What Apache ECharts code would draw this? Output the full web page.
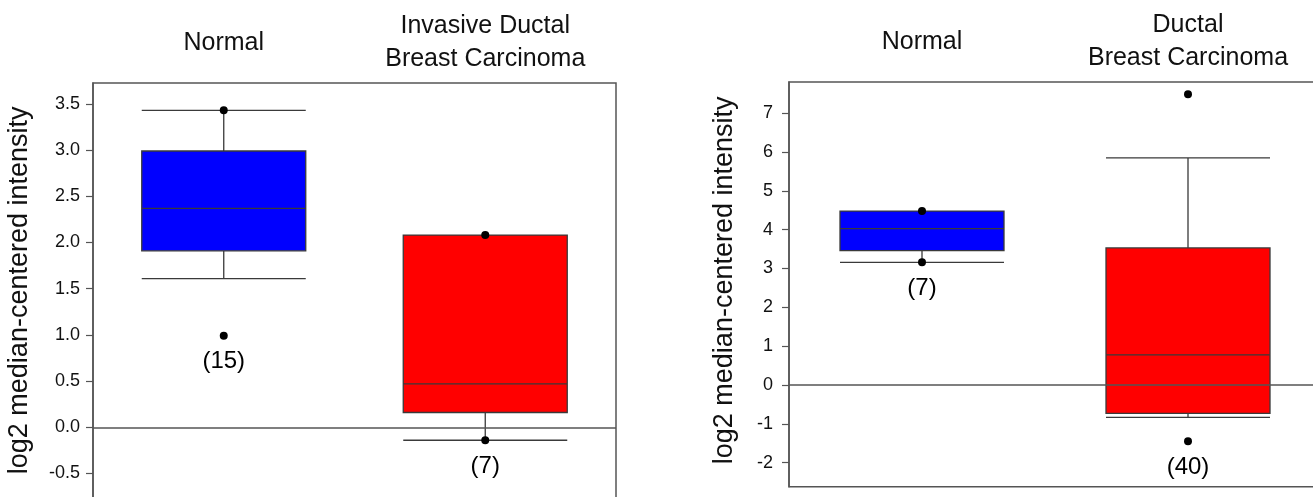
<!DOCTYPE html>
<html>
<head>
<meta charset="utf-8">
<script src="https://cdn.jsdelivr.net/npm/echarts@6/dist/echarts.min.js"></script>
<style>
  html, body { margin: 0; padding: 0; background: #fff; }
  #chart { width: 1313px; height: 497px; }
</style>
</head>
<body>
<div id="chart"></div>
<script>
// left panel
var leftCats = ['Normal', 'Invasive Ductal\nBreast Carcinoma'];
var leftBoxes = [[1.61, 1.91, 2.37, 2.99, 3.43], [-0.14, 0.16, 0.47, 2.08, 2.08]];
var leftMaxPts = [3.43, 2.08];
var leftMinPts = [0.99, -0.14];
var leftCounts = [15, 7];
var leftTicks = [-0.5, 0, 0.5, 1, 1.5, 2, 2.5, 3, 3.5];

// right panel
var rightCats = ['Normal', 'Ductal\nBreast Carcinoma'];
var rightBoxes = [[3.16, 3.46, 4.03, 4.48, 4.48], [-0.835, -0.73, 0.775, 3.53, 5.85]];
var rightMaxPts = [4.48, 7.49];
var rightMinPts = [3.16, -1.45];
var rightCounts = [7, 40];
var rightTicks = [-2, -1, 0, 1, 2, 3, 4, 5, 6, 7];

var boxColors = ['#0000ff', '#ff0000'];
var font = 'Liberation Sans, Arial, sans-serif';

function xAxisFor(idx, cats) {
    return {
        type: 'category', gridIndex: idx, position: 'top', data: cats,
        axisLine: { show: false }, axisTick: { show: false },
        axisLabel: {
            margin: 40, fontSize: 25, lineHeight: 33, color: '#111',
            fontFamily: font, verticalAlign: 'middle', interval: 0
        },
        splitLine: { show: false }
    };
}

function yAxisFor(idx, min, max, ticks, digits, gap, pad, margin) {
    return {
        type: 'value', gridIndex: idx, min: min, max: max,
        name: 'log2 median-centered intensity', nameLocation: 'middle', nameGap: gap,
        nameTextStyle: { fontSize: 27, color: '#111', fontFamily: font, padding: pad },
        axisLine: { show: true, lineStyle: { color: '#555', width: 1.5 } },
        axisTick: { show: true, length: 7, customValues: ticks, lineStyle: { color: '#555', width: 1.2 } },
        axisLabel: {
            customValues: ticks, fontSize: 18, color: '#111', fontFamily: font, margin: margin,
            formatter: function (v) { return v.toFixed(digits); }
        },
        splitLine: { show: false }
    };
}

function seriesFor(idx, boxes, maxPts, minPts, counts) {
    return [
        {
            type: 'boxplot', xAxisIndex: idx, yAxisIndex: idx,
            boxWidth: [164, 164],
            data: boxes.map(function (b, i) {
                return { value: b, itemStyle: { color: boxColors[i], borderColor: '#3a3a3a', borderWidth: 1.3 } };
            }),
            markLine: {
                silent: true, symbol: 'none', label: { show: false },
                lineStyle: { color: '#555', width: 1.5, type: 'solid' },
                data: [{ yAxis: 0 }],
                animation: false
            }
        },
        {
            type: 'scatter', xAxisIndex: idx, yAxisIndex: idx, symbolSize: 8, z: 5,
            itemStyle: { color: '#000', opacity: 1 },
            data: maxPts.map(function (v, i) { return [i, v]; })
        },
        {
            type: 'scatter', xAxisIndex: idx, yAxisIndex: idx, symbolSize: 8, z: 5,
            itemStyle: { color: '#000', opacity: 1 },
            label: {
                show: true, position: 'bottom', distance: 10, fontSize: 24,
                color: '#000', opacity: 1, textBorderWidth: 0, fontFamily: font,
                formatter: function (p) { return '(' + counts[p.dataIndex] + ')'; }
            },
            data: minPts.map(function (v, i) { return [i, v]; })
        }
    ];
}

var chart = echarts.init(document.getElementById('chart'));
chart.setOption({
    animation: false,
    backgroundColor: '#fff',
    grid: [
        { left: 93, top: 83, width: 523, height: 436.7, show: true, borderColor: '#555', borderWidth: 1.5, outerBoundsMode: 'none', containLabel: false },
        { left: 789, top: 82, width: 532, height: 404.7, show: true, borderColor: '#555', borderWidth: 1.5, outerBoundsMode: 'none', containLabel: false }
    ],
    xAxis: [xAxisFor(0, leftCats), xAxisFor(1, rightCats)],
    yAxis: [
        yAxisFor(0, -1, 3.726, leftTicks, 1, 60, [0, 0, 0, 22], 13),
        yAxisFor(1, -2.62, 7.805, rightTicks, 0, 51, [0, 0, 0, 8], 16)
    ],
    series: seriesFor(0, leftBoxes, leftMaxPts, leftMinPts, leftCounts)
        .concat(seriesFor(1, rightBoxes, rightMaxPts, rightMinPts, rightCounts))
});
</script>
</body>
</html>
